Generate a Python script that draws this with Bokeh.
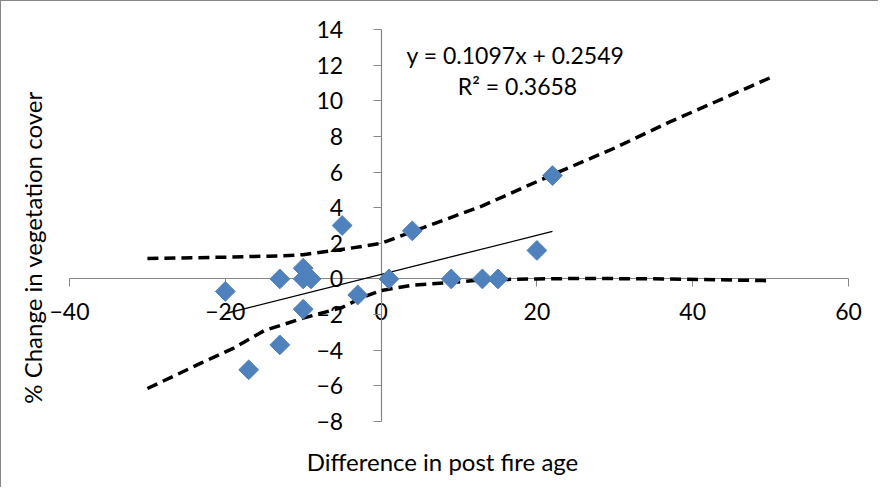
import math
from bokeh.plotting import figure
from bokeh.models import FixedTicker, Label, Range1d
from bokeh.embed import file_html
from bokeh.resources import INLINE

# ---- data ----
fire_age_diff = [-20, -17, -13, -13, -10, -10, -10, -9, -5, -3, 1, 4, 9, 13, 15, 20, 22]
veg_change = [-0.7, -5.1, 0.0, -3.7, 0.6, 0.0, -1.7, 0.0, 3.0, -0.9, 0.0, 2.7, 0.0, 0.0, 0.0, 1.6, 5.8]

trend_slope = 0.1097
trend_intercept = 0.2549
r_squared = 0.3658

upper_x = [-30, -20, -12.5, -10, -4, 0, 4, 13, 22, 30, 37, 50]
upper_y = [1.15, 1.22, 1.3, 1.36, 1.72, 2.0, 2.65, 4.1, 5.85, 7.35, 8.8, 11.3]
lower_x = [-30, -23, -19, -15, -10, -5, -2.5, 0, 4, 9, 13, 20, 26, 37, 50]
lower_y = [-6.15, -4.7, -3.9, -2.9, -2.2, -1.6, -1.05, -0.65, -0.35, -0.2, -0.05, 0.0, 0.03, 0.0, -0.1]

x_ticks = [-40, -20, 0, 20, 40, 60]
y_ticks = [-8, -6, -4, -2, 0, 2, 4, 6, 8, 10, 12, 14]

x_title = "Difference in post fire age"
y_title = "% Change in vegetation cover"

FONT = "Lato"
FS = "23px"
FS_TITLE = "24px"
AXIS_GREY = "#868686"
MARKER = "#4F81BD"

W, H = 878, 487
# frame covers the whole canvas; axis extents limited with bounds
x_lo, x_hi = -48.73, 63.98
y_lo, y_hi = -11.76, 15.57

p = figure(width=W, height=H,
           x_range=Range1d(x_lo, x_hi), y_range=Range1d(y_lo, y_hi),
           output_backend="svg", toolbar_location=None,
           min_border_left=0, min_border_right=0,
           min_border_top=0, min_border_bottom=0)
p.xgrid.visible = False
p.ygrid.visible = False
p.outline_line_color = None
p.background_fill_color = "white"
p.border_fill_color = "white"
p.styles = {"border-left": "1px solid #868686", "border-top": "1px solid #868686"}

for ax, ticks in ((p.xaxis, x_ticks), (p.yaxis, y_ticks)):
    ax.fixed_location = 0
    ax.bounds = (ticks[0], ticks[-1])
    ax.ticker = FixedTicker(ticks=ticks)
    ax.minor_tick_line_color = None
    ax.major_tick_in = 0
    ax.major_tick_out = 8
    ax.major_tick_line_color = AXIS_GREY
    ax.axis_line_color = AXIS_GREY
    ax.axis_line_width = 1.2
    ax.major_label_text_font = FONT
    ax.major_label_text_font_size = FS
    ax.major_label_text_color = "black"
    ax.level = "underlay"
p.xaxis.major_label_standoff = 16
p.yaxis.major_label_standoff = 30

# confidence bands
p.line(upper_x, upper_y, line_color="black", line_width=3.5, line_dash="11 6")
p.line(lower_x, lower_y, line_color="black", line_width=3.5, line_dash="11 6")

# linear trendline across the data range
tx = [min(fire_age_diff), max(fire_age_diff)]
ty = [trend_slope * v + trend_intercept for v in tx]
p.line(tx, ty, line_color="black", line_width=1.3)

# data points (rotated squares = Excel diamonds)
p.scatter(fire_age_diff, veg_change, marker="square", size=14, angle=math.pi / 4,
          fill_color=MARKER, line_color=MARKER)

def add_text(sx, sy, text, size, angle=0.0):
    p.add_layout(Label(x=sx, y=sy, x_units="screen", y_units="screen", text=text,
                       angle=angle, text_font=FONT, text_font_size=size,
                       text_color="black", text_align="center",
                       text_baseline="middle"))

add_text(514, 434, f"y = {trend_slope}x + {trend_intercept}", FS)
add_text(516, 403, f"R\u00b2 = {r_squared}", FS)
add_text(441, 27, x_title, FS_TITLE)
add_text(31, 241, y_title, FS_TITLE, angle=math.pi / 2)

open("out.html", "w").write(file_html(p, INLINE))
